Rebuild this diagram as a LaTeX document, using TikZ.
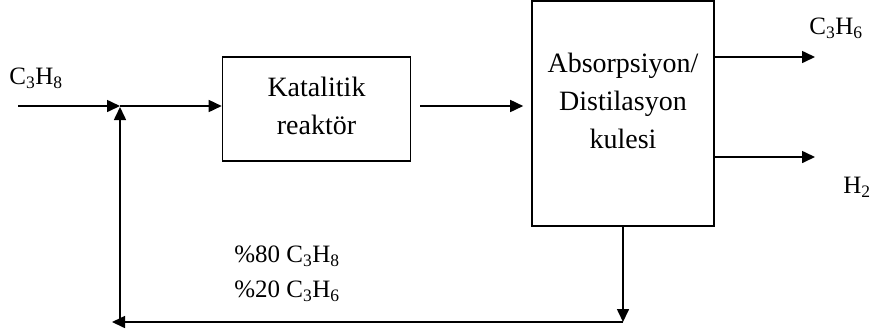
\documentclass[tikz,border=0pt]{standalone}
\usepackage{fontspec}
\setmainfont{Liberation Serif}
\usetikzlibrary{arrows.meta,positioning}

\tikzset{
    unit/.style={draw, line width=1.6pt, inner sep=0pt},
    flow/.style={line width=1.6pt, -{Triangle[length=13pt,width=12pt]}},
    boxtext/.style={font=\fontsize{28}{38}\selectfont, align=center},
    stream/.style={font=\fontsize{25}{35}\selectfont, align=left}
}

\begin{document}
\begin{tikzpicture}[x=1pt, y=-1pt]
    \useasboundingbox (0,0) rectangle (872,333);

    % units
    \node[unit, minimum width=188pt, minimum height=104pt] (reactor) at (316.5,109) {};
    \node[boxtext] (reactortext) at ([yshift=3pt]reactor.center) {Katalitik\\reaktör};
    \node[unit, minimum width=182pt, minimum height=225pt] (column) at (623,113.5) {};
    \node[boxtext] (columntext) at ([yshift=13pt]column.center) {Absorpsiyon/\\Distilasyon\\kulesi};

    % feed
    \coordinate (feed) at (18,106);
    \coordinate (mix) at (120,106);
    \node[stream] (feedlabel) at (36,78) {C\textsubscript{3}H\textsubscript{8}};
    \draw[flow] (feed) -- (mix);
    \draw[flow] (mix) -- (reactor.west |- mix);
    \draw[flow] ([xshift=9pt]reactor.east |- mix) -- ([xshift=-8pt]column.west |- mix);

    % products
    \coordinate (propene) at (815,57);
    \coordinate (hydrogen) at (815,157);
    \node[stream] (propenelabel) at (836,28) {C\textsubscript{3}H\textsubscript{6}};
    \node[stream] (hydrogenlabel) at (857,187) {H\textsubscript{2}};
    \draw[flow] (column.east |- propene) -- (propene);
    \draw[flow] (column.east |- hydrogen) -- (hydrogen);

    % recycle
    \coordinate (turn) at (623,322);
    \coordinate (back) at (112,322);
    \coordinate (corner) at (120,322);
    \draw[flow] (column.south) -- (turn);
    \draw[flow] (turn) -- (back);
    \draw[flow] (corner) -- ([yshift=-1pt]mix);
    \node[stream] (recyclelabel) at (287,274) {\%80 C\textsubscript{3}H\textsubscript{8}\\\%20 C\textsubscript{3}H\textsubscript{6}};
\end{tikzpicture}
\end{document}
